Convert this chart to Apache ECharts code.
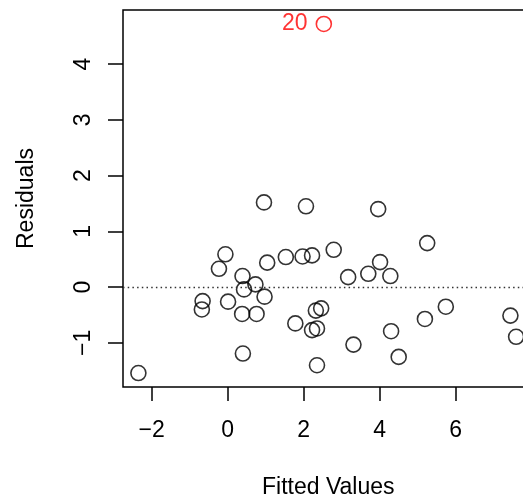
<!DOCTYPE html>
<html>
<head>
<meta charset="utf-8">
<script src="https://cdn.jsdelivr.net/npm/echarts@6/dist/echarts.min.js"></script>
<style>
  html, body { margin: 0; padding: 0; background: #fff; }
  #chart { width: 523px; height: 497px; }
</style>
</head>
<body>
<div id="chart"></div>
<script>
// Residuals against fitted values from a linear model
const fittedX = [0.955, 2.06, 3.96, 5.25, -0.06, -0.23, 1.04, 1.53, 1.97, 2.22,
  2.79, 3.17, 3.70, 4.01, 4.28, 0.39, 0.73, 0.43, 0.97, -0.66,
  -0.68, 0.01, 0.38, 0.76, 2.32, 2.46, 1.78, 2.22, 2.35, 5.74,
  5.19, 4.30, 7.44, 7.59, 3.31, 0.40, 4.50, 2.35, -2.35];
const residY = [1.52, 1.45, 1.40, 0.79, 0.59, 0.33, 0.44, 0.54, 0.55, 0.57,
  0.67, 0.18, 0.24, 0.45, 0.20, 0.20, 0.05, -0.04, -0.17, -0.25,
  -0.40, -0.26, -0.48, -0.48, -0.42, -0.38, -0.65, -0.77, -0.74, -0.35,
  -0.57, -0.79, -0.51, -0.89, -1.03, -1.19, -1.25, -1.40, -1.54];

// Flagged observation
const outlierX = [2.53];
const outlierY = [4.72];
const outlierLabel = ['20'];

const xTicks = [-2, 0, 2, 4, 6, 8];
const yTicks = [-1, 0, 1, 2, 3, 4];
const xRange = [-2.755, 8.05];
const yRange = [-1.79, 4.97];

const FONT = 'Liberation Sans, Arial, Helvetica, sans-serif';
const FS = 23;
const fmt = v => String(v).replace('-', '\u2212');

const chart = echarts.init(document.getElementById('chart'), null, { renderer: 'canvas' });

chart.setOption({
  animation: false,
  backgroundColor: '#ffffff',
  grid: {
    left: 123, top: 10, width: 410.6, height: 377,
    containLabel: false, outerBoundsMode: 'none',
    show: true, borderColor: '#000', borderWidth: 1.5, backgroundColor: 'transparent'
  },
  xAxis: {
    type: 'value', min: xRange[0], max: xRange[1],
    splitLine: { show: false },
    axisLine: { show: false, onZero: false },
    axisTick: { show: true, inside: false, length: 14, customValues: xTicks,
      lineStyle: { color: '#000', width: 1.5 } },
    axisLabel: { show: true, customValues: xTicks, margin: 32, formatter: fmt,
      color: '#000', fontSize: FS, fontFamily: FONT },
    name: 'Fitted Values', nameLocation: 'middle', nameGap: 89,
    nameTextStyle: { color: '#000', fontSize: FS, fontFamily: FONT }
  },
  yAxis: {
    type: 'value', min: yRange[0], max: yRange[1],
    splitLine: { show: false },
    axisLine: { show: false, onZero: false },
    axisTick: { show: true, inside: false, length: 15, customValues: yTicks,
      lineStyle: { color: '#000', width: 1.5 } },
    axisLabel: { show: true, customValues: yTicks, rotate: 90, margin: 28, formatter: fmt,
      color: '#000', fontSize: FS, fontFamily: FONT },
    name: 'Residuals', nameLocation: 'middle', nameGap: 85, nameRotate: 90,
    nameTextStyle: { color: '#000', fontSize: FS, fontFamily: FONT }
  },
  series: [
    {
      type: 'scatter',
      data: fittedX.map((x, i) => [x, residY[i]]),
      symbol: 'circle', symbolSize: 15,
      itemStyle: { color: 'transparent', borderColor: '#000', borderWidth: 1.6 },
      markLine: {
        silent: true, symbol: 'none', animation: false,
        label: { show: false },
        lineStyle: { color: '#333', type: [1.5, 3.2], width: 1.3 },
        data: [{ yAxis: 0 }]
      }
    },
    {
      type: 'scatter',
      data: outlierX.map((x, i) => ({ value: [x, outlierY[i]], name: outlierLabel[i] })),
      symbol: 'circle', symbolSize: 15,
      itemStyle: { color: 'transparent', borderColor: '#ff0000', borderWidth: 1.6 },
      label: {
        show: true, position: 'left', distance: 8, formatter: p => p.name,
        color: '#ff0000', fontSize: FS, fontFamily: FONT
      }
    }
  ]
});
</script>
</body>
</html>
